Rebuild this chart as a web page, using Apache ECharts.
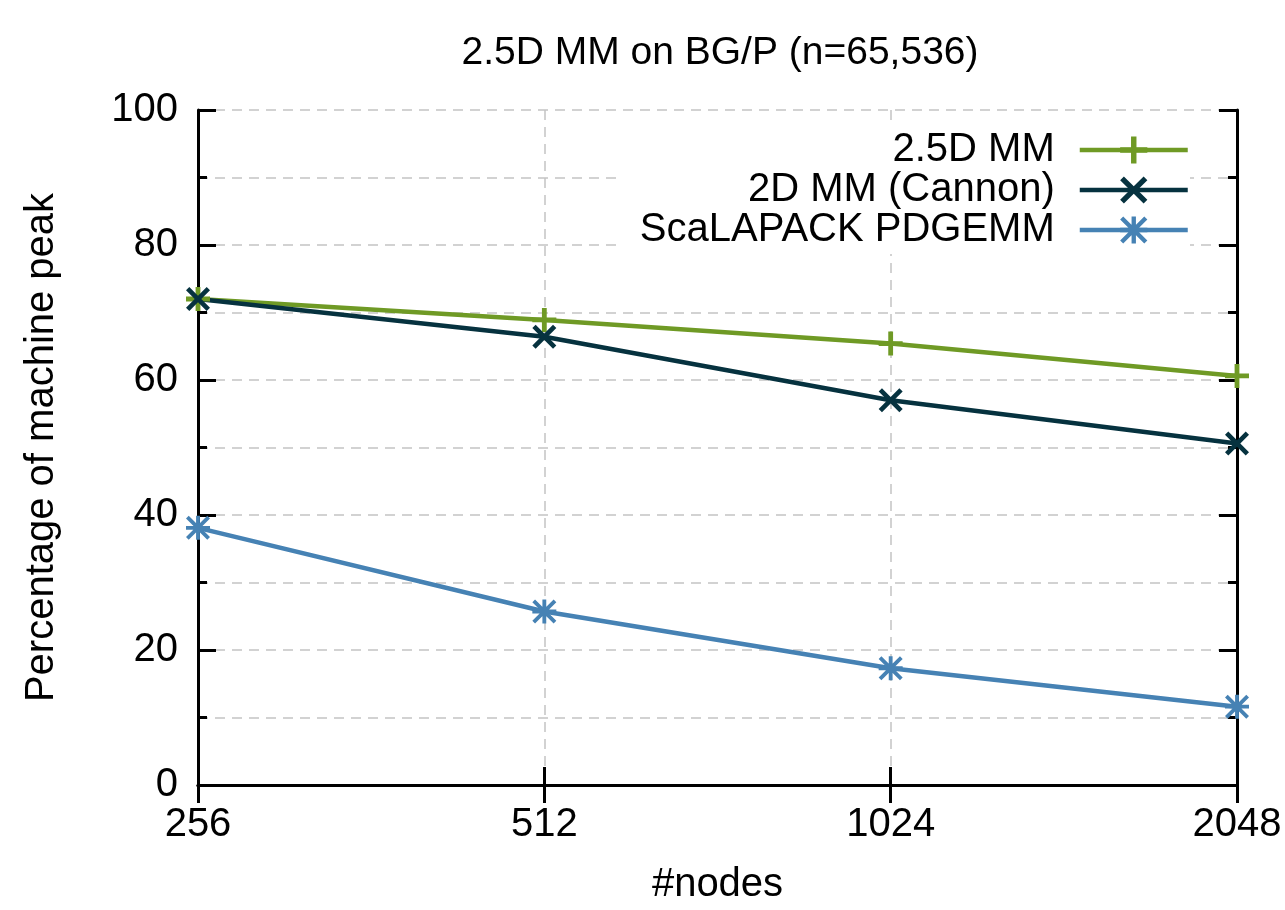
<!DOCTYPE html>
<html>
<head>
<meta charset="utf-8">
<title>2.5D MM on BG/P</title>
<script src="https://cdn.jsdelivr.net/npm/echarts@6/dist/echarts.min.js"></script>
<style>
  html, body { margin: 0; padding: 0; background: #fff; }
  #chart { width: 1285px; height: 910px; }
</style>
</head>
<body>
<div id="chart"></div>
<script>
var nodes = ['256', '512', '1024', '2048'];
var mm25d = [72, 68.9, 65.4, 60.6];
var mm2d = [72, 66.4, 57, 50.6];
var scalapack = [38.1, 25.7, 17.3, 11.6];

(function() {
  var font = '"Liberation Sans", Arial, sans-serif';
  var green = '#6f9a25';
  var dark = '#06323f';
  var blue = '#4682b4';
  var grey = '#c4c4c4';

  // filled marker outlines, so they render the same in the legend
  function plusPts(a, b) {
    return [[-a,-b],[a,-b],[a,-a],[b,-a],[b,a],[a,a],[a,b],[-a,b],[-a,a],[-b,a],[-b,-a],[-a,-a]];
  }
  function toPath(pts, rot) {
    var c = Math.cos(rot), s = Math.sin(rot);
    return 'M' + pts.map(function(p) {
      return (p[0] * c - p[1] * s).toFixed(3) + ',' + (p[0] * s + p[1] * c).toFixed(3);
    }).join('L') + 'Z';
  }
  var symPlus = 'path://' + toPath(plusPts(2.0, 10), 0);
  var symCross = 'path://' + toPath(plusPts(1.6, 10), Math.PI / 4);
  var symStar = 'path://' + toPath(plusPts(1.6, 10), 0) + toPath(plusPts(1.6, 10 * Math.SQRT2 - 1.6), Math.PI / 4);

  var chart = echarts.init(document.getElementById('chart'), null, { renderer: 'canvas' });

  function lineSeries(name, data, color, symbol, size) {
    return {
      name: name,
      type: 'line',
      data: data,
      symbol: symbol,
      symbolSize: size,
      showAllSymbol: true,
      lineStyle: { color: color, width: 4.5 },
      itemStyle: { color: color },
      z: 3
    };
  }

  var dash = { color: grey, width: 1.5, type: [10, 7] };
  var txt = { fontFamily: font, fontSize: 40, color: '#000' };

  chart.setOption({
    animation: false,
    backgroundColor: '#fff',
    title: {
      text: '2.5D MM on BG/P (n=65,536)',
      left: 715,
      textAlign: 'center',
      top: 29,
      textStyle: { fontFamily: font, fontSize: 39, fontWeight: 'normal', color: '#000' }
    },
    legend: {
      orient: 'vertical',
      right: 95,
      top: 126,
      align: 'right',
      itemWidth: 108,
      itemHeight: 34,
      itemGap: 0,
      backgroundColor: '#fff',
      padding: [4, 0, 4, 20],
      lineStyle: { width: 4.5 },
      textStyle: { fontFamily: font, fontSize: 40, color: '#000', padding: [0, 20, 0, 0] },
      data: ['2.5D MM', '2D MM (Cannon)', 'ScaLAPACK PDGEMM']
    },
    grid: { left: 198, right: 48, top: 110, bottom: 125 },
    xAxis: [{
      type: 'category',
      data: nodes,
      boundaryGap: false,
      name: '#nodes',
      nameLocation: 'middle',
      nameGap: 80,
      nameTextStyle: txt,
      axisLine: { lineStyle: { color: '#000', width: 3 } },
      axisTick: { inside: true, length: 18, lineStyle: { color: '#000', width: 3 } },
      axisLabel: { fontFamily: font, fontSize: 40, color: '#000', margin: 20 },
      splitLine: { show: true, lineStyle: dash }
    }, {
      type: 'category',
      data: nodes,
      boundaryGap: false,
      position: 'top',
      axisLine: { lineStyle: { color: '#000', width: 3 } },
      axisTick: { inside: true, length: 18, lineStyle: { color: '#000', width: 3 } },
      axisLabel: { show: false },
      splitLine: { show: false }
    }],
    yAxis: [{
      type: 'value',
      min: 0,
      max: 100,
      interval: 20,
      name: 'Percentage of machine peak',
      nameLocation: 'middle',
      nameGap: 136,
      nameTextStyle: txt,
      axisLine: { show: true, lineStyle: { color: '#000', width: 3 } },
      axisTick: { show: true, inside: true, length: 18, lineStyle: { color: '#000', width: 3 } },
      minorTick: { show: true, splitNumber: 2, length: 9, lineStyle: { color: '#000', width: 3 } },
      axisLabel: { fontFamily: font, fontSize: 40, color: '#000', margin: 20 },
      splitLine: { show: true, lineStyle: dash },
      minorSplitLine: { show: true, lineStyle: dash }
    }, {
      type: 'value',
      min: 0,
      max: 100,
      interval: 20,
      position: 'right',
      axisLine: { show: true, lineStyle: { color: '#000', width: 3 } },
      axisTick: { show: true, inside: true, length: 18, lineStyle: { color: '#000', width: 3 } },
      minorTick: { show: true, splitNumber: 2, length: 9, lineStyle: { color: '#000', width: 3 } },
      axisLabel: { show: false },
      splitLine: { show: false }
    }],
    series: [
      lineSeries('2.5D MM', mm25d, green, symPlus, 24),
      lineSeries('2D MM (Cannon)', mm2d, dark, symCross, 24),
      lineSeries('ScaLAPACK PDGEMM', scalapack, blue, symStar, 24)
    ]
  });

  window.addEventListener('resize', function() { chart.resize(); });
})();
</script>
</body>
</html>
